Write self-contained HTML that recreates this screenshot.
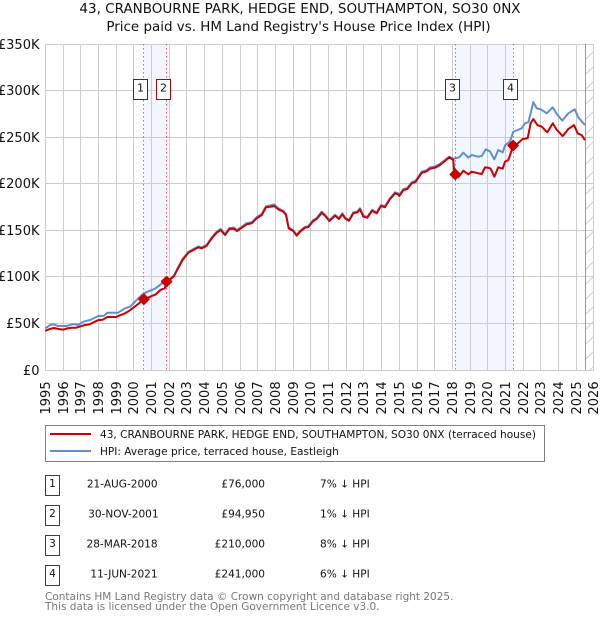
<!DOCTYPE html>
<html>
<head>
<meta charset="utf-8">
<style>
html,body{margin:0;padding:0;background:#fff;width:600px;height:620px;overflow:hidden}
svg{display:block}
text{font-family:"DejaVu Sans","Liberation Sans",sans-serif;fill:#111}
</style>
</head>
<body>
<svg id="chart" width="600" height="620" viewBox="0 0 600 620" xmlns="http://www.w3.org/2000/svg">
<defs>
<pattern id="hatch" patternUnits="userSpaceOnUse" width="15" height="15">
<path d="M-1 16 L16 -1" stroke="#cfcfcf" stroke-width="1" fill="none"/>
</pattern>
</defs>
<text x="300" y="13" text-anchor="middle" font-size="13.5">43, CRANBOURNE PARK, HEDGE END, SOUTHAMPTON, SO30 0NX</text>
<text x="298.5" y="31" text-anchor="middle" font-size="13.45">Price paid vs. HM Land Registry's House Price Index (HPI)</text>
<g id="plot"></g>
<g>
<rect x="45.5" y="425.5" width="499" height="36" fill="#fff" stroke="#808080" stroke-width="1"/>
<line x1="50" x2="91" y1="434" y2="434" stroke="#cc0000" stroke-width="2"/>
<text x="100" y="438" font-size="10.56">43, CRANBOURNE PARK, HEDGE END, SOUTHAMPTON, SO30 0NX (terraced house)</text>
<line x1="50" x2="91" y1="451" y2="451" stroke="#5f8fd0" stroke-width="2"/>
<text x="100" y="455" font-size="10.56">HPI: Average price, terraced house, Eastleigh</text>
</g>
<g font-size="10.56">
<g>
<rect x="45.5" y="475.5" width="14" height="20" fill="#fff" stroke="#cc0000"/>
<text x="52.5" y="487" text-anchor="middle">1</text>
<text x="157.6" y="487.5" text-anchor="end">21-AUG-2000</text>
<text x="265" y="487.5" text-anchor="end">£76,000</text>
<text x="320" y="487.5">7% ↓ HPI</text>
</g>
<g>
<rect x="45.5" y="505.5" width="14" height="20" fill="#fff" stroke="#cc0000"/>
<text x="52.5" y="517" text-anchor="middle">2</text>
<text x="158.6" y="517.5" text-anchor="end">30-NOV-2001</text>
<text x="265" y="517.5" text-anchor="end">£94,950</text>
<text x="320" y="517.5">1% ↓ HPI</text>
</g>
<g>
<rect x="45.5" y="535.5" width="14" height="20" fill="#fff" stroke="#cc0000"/>
<text x="52.5" y="547" text-anchor="middle">3</text>
<text x="157.6" y="547.5" text-anchor="end">28-MAR-2018</text>
<text x="265" y="547.5" text-anchor="end">£210,000</text>
<text x="320" y="547.5">8% ↓ HPI</text>
</g>
<g>
<rect x="45.5" y="565.5" width="14" height="20" fill="#fff" stroke="#cc0000"/>
<text x="52.5" y="577" text-anchor="middle">4</text>
<text x="157.6" y="577.5" text-anchor="end">11-JUN-2021</text>
<text x="265" y="577.5" text-anchor="end">£241,000</text>
<text x="320" y="577.5">6% ↓ HPI</text>
</g>
</g>
<text x="45" y="600" font-size="10.5" style="fill:#777">Contains HM Land Registry data © Crown copyright and database right 2025.</text>
<text x="45" y="610" font-size="10.5" style="fill:#777">This data is licensed under the Open Government Licence v3.0.</text>
</svg>
<script>
const yearTicks = [1995,1996,1997,1998,1999,2000,2001,2002,2003,2004,2005,2006,2007,2008,2009,2010,2011,2012,2013,2014,2015,2016,2017,2018,2019,2020,2021,2022,2023,2024,2025,2026];
const valueTicks = [0,50,100,150,200,250,300,350];
const valueTickLabels = ['£0','£50K','£100K','£150K','£200K','£250K','£300K','£350K'];
const saleLabels = ['1','2','3','4'];
const saleDates = [2000.57,2001.85,2018.16,2021.43];
const saleValues = [76,94.95,210,241];
const shadedSpans = [[2000.57,2001.8],[2018.16,2021.43]];
const dataEndDate = 2025.5;
const priceDates = [1995,1995.25,1995.5,1995.75,1996,1996.25,1996.5,1996.75,1997,1997.25,1997.5,1997.75,1998,1998.25,1998.5,1998.75,1999,1999.25,1999.5,1999.75,2000,2000.25,2000.57,2000.75,2001,2001.25,2001.5,2001.75,2001.85,2002,2002.25,2002.5,2002.75,2003.08,2003.36,2003.64,2003.84,2004.12,2004.4,2004.68,2004.91,2005.15,2005.4,2005.66,2005.83,2006.1,2006.38,2006.66,2006.94,2007.23,2007.47,2007.7,2007.94,2008.16,2008.45,2008.6,2008.75,2009.01,2009.2,2009.39,2009.67,2009.86,2010.14,2010.33,2010.62,2010.8,2011.05,2011.37,2011.59,2011.78,2011.97,2012.16,2012.4,2012.63,2012.78,2012.97,2013.19,2013.47,2013.72,2013.97,2014.19,2014.47,2014.76,2014.94,2015,2015.23,2015.45,2015.7,2015.93,2016.27,2016.55,2016.73,2017.02,2017.3,2017.58,2017.82,2018.05,2018.11,2018.16,2018.33,2018.62,2018.9,2019.09,2019.46,2019.66,2019.84,2020.03,2020.16,2020.37,2020.59,2020.84,2020.97,2021.16,2021.29,2021.43,2021.63,2021.97,2022.25,2022.42,2022.57,2022.8,2023.05,2023.36,2023.67,2023.9,2024.23,2024.55,2024.87,2025.08,2025.3,2025.49];
const priceValues = [41.9,44,45.1,44,43.3,44.7,45.4,45.4,46.9,48.3,49,51.5,53.7,54,56.9,56.9,56.9,59,60.8,63.7,67.3,70.9,76,77,79.4,81.3,85.9,87.7,94.95,96.6,100.2,109.2,118,125.9,128.8,131.7,130.6,133.4,141.4,147.4,150.3,144.9,151.4,151.7,149.2,152.8,156.4,157.5,162.9,166.4,174.7,175.3,176.1,172.5,170,166.4,152.1,149.2,144.2,148.5,152.8,153.5,160,162.1,168.9,165.7,160,165.7,162.1,167.2,162.1,160.3,168.2,169.3,172.5,164.6,163.5,171,168.2,176.1,174.7,183.3,189.7,188.6,186.8,193.2,194.3,200.4,202.2,211.8,213.3,216.1,217.2,220.1,224.4,228.4,225.5,211.2,210,206.9,214,210.1,212.9,211.2,210.4,217.6,217.2,216.1,207.5,217.6,216.1,223.6,225.5,232.6,241,242.3,248,248.8,264.9,269.5,263,261.2,255.2,264.9,257.7,251.2,258.7,263,254,252.3,246.9];
const hpiDates = [1995,1995.27,1995.45,1995.73,1996.2,1996.58,1996.86,1997.15,1997.53,1997.99,1998.32,1998.5,1999.12,1999.5,1999.79,2000.16,2000.45,2000.73,2001.2,2001.48,2001.76,2002.05,2002.25,2002.5,2002.75,2003.08,2003.36,2003.64,2003.84,2004.12,2004.4,2004.68,2004.91,2005.15,2005.4,2005.66,2005.83,2006.1,2006.38,2006.66,2006.94,2007.23,2007.47,2007.7,2007.94,2008.16,2008.45,2008.6,2008.75,2009.01,2009.2,2009.39,2009.67,2009.86,2010.14,2010.33,2010.62,2010.8,2011.05,2011.37,2011.59,2011.78,2011.97,2012.16,2012.4,2012.63,2012.78,2012.97,2013.19,2013.47,2013.72,2013.97,2014.19,2014.47,2014.76,2014.94,2015,2015.23,2015.45,2015.7,2015.93,2016.27,2016.55,2016.73,2017.02,2017.3,2017.58,2017.82,2018.05,2018.15,2018.39,2018.62,2018.9,2019.09,2019.46,2019.66,2019.88,2020.12,2020.37,2020.59,2020.84,2020.99,2021.25,2021.44,2021.92,2022.1,2022.29,2022.42,2022.57,2022.76,2022.99,2023.33,2023.67,2023.9,2024.21,2024.55,2024.91,2025.11,2025.49];
const hpiValues = [44.7,48.3,49,47.2,47.2,49.4,48.3,51.9,53.7,58,58.3,61.5,61.5,66.2,68,75.2,80.5,83.7,87.3,91.3,95.5,97.7,101,110,119,126.8,129.8,132.6,131.6,134.4,142.4,148.4,151.4,146,152.4,152.8,150.2,153.8,157.6,158.6,164,167.6,175.8,176.6,177.8,173.6,171,167.4,153,150,145,149.4,153.6,154.4,161,163,170,166.6,161,166.6,163,168.2,163,161.2,169.2,170.2,173.6,165.6,164.4,172,169.2,177.2,175.8,184.4,190.8,189.6,187.8,194.2,195.4,201.4,203.4,213,214.6,217.4,218.6,221.4,225.4,229,226.8,227.3,228.4,233.3,228,230.8,229,229.8,236.9,234.8,226.2,236.2,233.7,241.6,245.1,255.8,259.5,264.9,265.9,275.6,287.7,281,279.9,275.6,282,274.8,267.7,275.6,279.9,271.3,263];

const NS = 'http://www.w3.org/2000/svg';
const plot = document.getElementById('plot');
function xScale(t){ return 45.3 + (t - 1995) * 17.7; }
function yScale(k){ return 370 - k * 0.9314; }
function snap(v){ return Math.floor(v) + 0.5; }
function make(tag, attrs, parent){
  const el = document.createElementNS(NS, tag);
  for (const k in attrs) el.setAttribute(k, attrs[k]);
  (parent || plot).appendChild(el);
  return el;
}
const xMin = xScale(yearTicks[0]);
const xMax = xScale(yearTicks[yearTicks.length - 1]);
const yBase = yScale(0);
const yTop = yScale(valueTicks[valueTicks.length - 1]);

shadedSpans.forEach(function(s){
  const el = make('rect', {x:xScale(s[0]), y:yTop, width:xScale(s[1])-xScale(s[0]), height:yBase-yTop, fill:'#f2f6fe'});
  
  
});
yearTicks.forEach(function(y){
  const x = snap(xScale(y));
  const el = make('line', {x1:x, x2:x, y1:yTop, y2:yBase, stroke:'#cccccc', 'stroke-width':1});
  
  
  const t = make('text', {transform:'translate('+(x+4.5)+',414.5) rotate(-90)', 'font-size':13});
  t.textContent = y;
  
  
});
valueTicks.forEach(function(v, i){
  const y = snap(yScale(v));
  const el = make('line', {x1:xMin, x2:xMax, y1:y, y2:y, stroke:'#cccccc', 'stroke-width':1});
  
  
  const t = make('text', {x:39.5, y:y+4.5, 'text-anchor':'end', 'font-size':13});
  t.textContent = valueTickLabels[i];
  
  
});
const hatchRect = make('rect', {x:xScale(dataEndDate), y:yTop, width:xMax-xScale(dataEndDate), height:yBase-yTop, fill:'url(#hatch)'});


const endLine = make('line', {x1:snap(xScale(dataEndDate)), x2:snap(xScale(dataEndDate)), y1:yTop, y2:yBase, stroke:'#999999', 'stroke-width':1});



saleDates.forEach(function(d){
  const x = snap(xScale(d));
  const el = make('line', {x1:x, x2:x, y1:yTop, y2:yBase, stroke:'#ff5566', 'stroke-width':1, 'stroke-dasharray':'1.5 2.5'});
  
  
});
function pathFor(dates, values){
  return dates.map(function(d, i){
    return (i ? 'L' : 'M') + xScale(d).toFixed(2) + ' ' + yScale(values[i]).toFixed(2);
  }).join(' ');
}
const hpiLine = make('path', {d:pathFor(hpiDates, hpiValues), fill:'none', stroke:'#5f8fd0', 'stroke-width':2, 'stroke-linejoin':'round'});


const priceLine = make('path', {d:pathFor(priceDates, priceValues), fill:'none', stroke:'#cc0000', 'stroke-width':2, 'stroke-linejoin':'round'});



saleDates.forEach(function(d, i){
  const x = xScale(d), y = yScale(saleValues[i]), r = 5;
  const m = make('path', {d:'M'+(x-r)+' '+y+' L'+x+' '+(y-r)+' L'+(x+r)+' '+y+' L'+x+' '+(y+r)+' Z', fill:'#cc0000', stroke:'#cc0000', 'stroke-width':1.5, 'stroke-linejoin':'round'});
  
  
  const b = make('rect', {x:snap(x-10), y:79.5, width:14, height:20, fill:'#fff', stroke:'#b00000', 'stroke-width':1});
  
  
  const t = make('text', {x:snap(x-10)+7, y:91.5, 'text-anchor':'middle', 'font-size':11});
  t.textContent = saleLabels[i];
  
  
});
</script>
</body>
</html>
